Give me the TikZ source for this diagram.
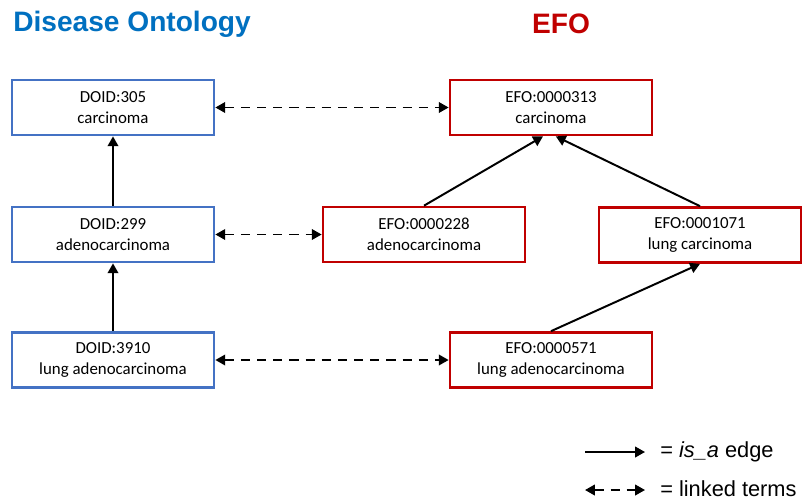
\documentclass[tikz,border=0pt]{standalone}
\usepackage{fontspec}
\setmainfont{Carlito}
\newfontfamily\arialfont{Liberation Sans}
\usetikzlibrary{arrows.meta, positioning}
\definecolor{doblue}{RGB}{68,114,196}
\definecolor{dotitle}{RGB}{0,112,192}
\definecolor{efored}{RGB}{192,0,0}
\tikzset{
  termbox/.style={
    rectangle, draw=#1, line width=1.9pt, fill=white,
    minimum width=5.05cm, minimum height=1.375cm,
    align=center, font=\fontsize{12}{15}\selectfont,
    inner sep=2pt
  },
  titlenode/.style={
    font=\arialfont\fontsize{20}{24}\selectfont\bfseries, text=#1,
    inner sep=0pt
  },
  isaarrow/.style={-{Triangle[length=7pt,width=7.5pt]}, line width=1.4pt, black},
  linkarrow/.style={{Triangle[length=7pt,width=7.5pt]}-{Triangle[length=7pt,width=7.5pt]},
    line width=1.4pt, black, dash pattern=on 6.5pt off 5pt},
  legendtext/.style={font=\arialfont\fontsize{15.5}{19}\selectfont, anchor=west, inner sep=0pt},
}

\begin{document}
\begin{tikzpicture}[x=0.025cm, y=-0.025cm]
    \useasboundingbox (0,0) rectangle (806,502);

    % titles
    \node[titlenode=dotitle, anchor=west] (dotitle) at (13,24) {Disease Ontology};
    \node[titlenode=efored] (efotitle) at (561,24) {EFO};

    % Disease Ontology terms
    \node[termbox=doblue] (d305)  at (113,107.5) {DOID:305\\carcinoma};
    \node[termbox=doblue] (d299)  at (113,234.5) {DOID:299\\adenocarcinoma};
    \node[termbox=doblue] (d3910) at (113,360)   {DOID:3910\\lung adenocarcinoma};

    % EFO terms
    \node[termbox=efored] (e313)  at (551,107.5) {EFO:0000313\\carcinoma};
    \node[termbox=efored] (e228)  at (424,234.5) {EFO:0000228\\adenocarcinoma};
    \node[termbox=efored] (e1071) at (700,235)   {EFO:0001071\\lung carcinoma};
    \node[termbox=efored] (e571)  at (551,360)   {EFO:0000571\\lung adenocarcinoma};

    % is_a edges
    \draw[isaarrow] (d299.north)  -- (d305.south);
    \draw[isaarrow] (d3910.north) -- (d299.south);
    \draw[isaarrow] (e228.north)  -- ([xshift=-0.2cm]e313.south);
    \draw[isaarrow] (e1071.north) -- ([xshift=0.12cm]e313.south);
    \draw[isaarrow] (e571.north)  -- (e1071.south);

    % linked terms
    \draw[linkarrow] (d305.east)  -- (e313.west);
    \draw[linkarrow] (d299.east)  -- (e228.west);
    \draw[linkarrow] (d3910.east) -- (e571.west);

    % legend
    \coordinate (isastart) at (585,452);
    \coordinate (isaend)   at (645,452);
    \coordinate (linkstart) at (585,490);
    \coordinate (linkend)   at (645,490);
    \draw[isaarrow]  (isastart)  -- (isaend);
    \draw[linkarrow] (linkstart) -- (linkend);
    \node[legendtext] (isalabel)  at (660,452) {= \textit{is\_a} edge};
    \node[legendtext] (linklabel) at (660,489) {= linked terms};
\end{tikzpicture}
\end{document}
